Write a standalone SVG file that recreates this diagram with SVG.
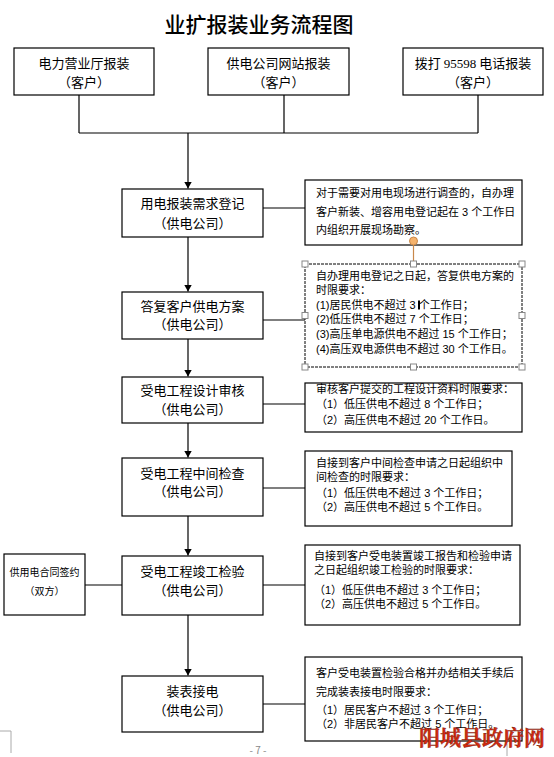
<svg xmlns="http://www.w3.org/2000/svg" width="554" height="757" viewBox="0 0 554 757">
<style>
text{font-family:"Noto Sans CJK SC","Noto Sans",sans-serif;fill:#000;dominant-baseline:central}
.box{fill:#fff;stroke:#000;stroke-width:1.2}
.m{font-size:13px;text-anchor:middle}
.n{font-size:11px;font-family:"Liberation Sans","Noto Sans CJK SC",sans-serif}
.ln{fill:none;stroke:#000;stroke-width:1.2}
.h{fill:#fff;stroke:#888;stroke-width:1}
.ser{font-family:"Liberation Serif",serif}
</style>
<defs>
<marker id="ar" markerWidth="8" markerHeight="8" refX="7" refY="4" orient="auto" markerUnits="userSpaceOnUse">
<path d="M0,0 L7,4 L0,8 z" fill="#000"/>
</marker>
</defs>
<rect width="554" height="757" fill="#fff"/>
<text x="259" y="22.5" style="font-size:21px;font-weight:500" text-anchor="middle">业扩报装业务流程图</text>

<g id="connectors">
<path class="ln" d="M79,95 V133 M284,95 V133 M478,95 V133 M79,133 H478"/>
<path class="ln" d="M188,133 V188.5" marker-end="url(#ar)"/>
<path class="ln" d="M188,237 V291.5" marker-end="url(#ar)"/>
<path class="ln" d="M188,339 V376.5" marker-end="url(#ar)"/>
<path class="ln" d="M188,423 V457.5" marker-end="url(#ar)"/>
<path class="ln" d="M188,516 V555.5" marker-end="url(#ar)"/>
<path class="ln" d="M188,615 V675.5" marker-end="url(#ar)"/>
<path class="ln" d="M263,208 H305 M263,320 H305 M263,404 H305 M263,488 H305 M263,585 H305 M263,704 H305 M85,585 H122"/>
</g>

<g id="src1"><rect class="box" x="14" y="48" width="140" height="47"/>
<text class="m" x="84" y="62.5">电力营业厅报装</text><text class="m" x="84" y="81">（客户）</text></g>
<g id="src2"><rect class="box" x="208" y="48" width="141" height="47"/>
<text class="m" x="278.5" y="62.5">供电公司网站报装</text><text class="m" x="278.5" y="81">（客户）</text></g>
<g id="src3"><rect class="box" x="403" y="48" width="140" height="47"/>
<text class="m" x="473" y="62.5">拨打 <tspan class="ser">95598</tspan> 电话报装</text><text class="m" x="473" y="81">（客户）</text></g>

<g id="step1"><rect class="box" x="122" y="189" width="141" height="48"/>
<text class="m" x="192.5" y="202">用电报装需求登记</text><text class="m" x="192.5" y="222">（供电公司）</text></g>
<g id="step2"><rect class="box" x="122" y="292" width="141" height="47"/>
<text class="m" x="192.5" y="305">答复客户供电方案</text><text class="m" x="192.5" y="323.5">（供电公司）</text></g>
<g id="step3"><rect class="box" x="122" y="377" width="141" height="46"/>
<text class="m" x="192.5" y="389.5">受电工程设计审核</text><text class="m" x="192.5" y="408.5">（供电公司）</text></g>
<g id="step4"><rect class="box" x="122" y="458" width="141" height="58"/>
<text class="m" x="192.5" y="472">受电工程中间检查</text><text class="m" x="192.5" y="490.5">（供电公司）</text></g>
<g id="step5"><rect class="box" x="122" y="556" width="141" height="59"/>
<text class="m" x="192.5" y="570">受电工程竣工检验</text><text class="m" x="192.5" y="589">（供电公司）</text></g>
<g id="step6"><rect class="box" x="122" y="676" width="141" height="56"/>
<text class="m" x="192.5" y="690.5">装表接电</text><text class="m" x="192.5" y="709.5">（供电公司）</text></g>

<g id="contract"><rect class="box" x="4" y="554" width="81" height="61"/>
<text x="44.5" y="571" style="font-size:10px" text-anchor="middle">供用电合同签约</text>
<text x="44.5" y="590" style="font-size:10px" text-anchor="middle">（双方）</text></g>

<g id="note1"><rect class="box" x="305" y="180" width="217" height="65"/>
<text class="n" x="316" y="193">对于需要对用电现场进行调查的，自办理</text>
<text class="n" x="316" y="212">客户新装、增容用电登记起在 3 个工作日</text>
<text class="n" x="316" y="230">内组织开展现场勘察。</text></g>

<g id="note2"><rect x="305" y="264" width="217" height="103" fill="#fff" stroke="#000" stroke-width="1" stroke-dasharray="3 1"/>
<text class="n" x="316" y="276">自办理用电登记之日起，答复供电方案的</text>
<text class="n" x="316" y="290">时限要求：</text>
<text class="n" x="316" y="305">(1)居民供电不超过 3 个工作日；</text>
<text class="n" x="316" y="319">(2)低压供电不超过 7 个工作日；</text>
<text class="n" x="316" y="334">(3)高压单电源供电不超过 15 个工作日；</text>
<text class="n" x="316" y="349">(4)高压双电源供电不超过 30 个工作日。</text>
<rect x="418" y="300.5" width="2" height="9" fill="#000"/>
<path d="M413.5,245 V264" stroke="#c8884a" stroke-width="1.2"/>
<circle cx="413.5" cy="241" r="4" fill="#f6b36c" stroke="#c8884a" stroke-width="1"/>
<rect class="h" x="302" y="261" width="6" height="6"/><rect class="h" x="410.5" y="261" width="6" height="6"/><rect class="h" x="519" y="261" width="6" height="6"/>
<rect class="h" x="302" y="312.5" width="6" height="6"/><rect class="h" x="519" y="312.5" width="6" height="6"/>
<rect class="h" x="302" y="364" width="6" height="6"/><rect class="h" x="410.5" y="364" width="6" height="6"/><rect class="h" x="519" y="364" width="6" height="6"/></g>

<g id="note3"><rect class="box" x="305" y="383" width="217" height="49"/>
<text class="n" x="316" y="389">审核客户提交的工程设计资料时限要求：</text>
<text class="n" x="316" y="404">（1）低压供电不超过 8 个工作日；</text>
<text class="n" x="316" y="420">（2）高压供电不超过 20 个工作日。</text></g>

<g id="note4"><rect class="box" x="305" y="451" width="207" height="75"/>
<text class="n" x="316" y="463">自接到客户中间检查申请之日起组织中</text>
<text class="n" x="316" y="477">间检查的时限要求：</text>
<text class="n" x="316" y="493">（1）低压供电不超过 3 个工作日；</text>
<text class="n" x="316" y="507">（2）高压供电不超过 5 个工作日。</text></g>

<g id="note5"><rect class="box" x="305" y="545" width="215" height="80"/>
<text class="n" x="314" y="556">自接到客户受电装置竣工报告和检验申请</text>
<text class="n" x="314" y="570">之日起组织竣工检验的时限要求：</text>
<text class="n" x="314" y="590">（1）低压供电不超过 3 个工作日；</text>
<text class="n" x="314" y="604">（2）高压供电不超过 5 个工作日。</text></g>

<g id="note6"><rect class="box" x="305" y="657" width="217" height="84"/>
<text class="n" x="316" y="673">客户受电装置检验合格并办结相关手续后</text>
<text class="n" x="316" y="692">完成装表接电时限要求：</text>
<text class="n" x="316" y="710">（1）居民客户不超过 3 个工作日；</text>
<text class="n" x="316" y="724">（2）非居民客户不超过 5 个工作日。</text></g>

<path d="M0,731 H11 V753" fill="none" stroke="#aaa" stroke-width="1"/>
<path d="M507,744 V756" stroke="#aaa" stroke-width="1"/>
<text x="258" y="749" style="font-size:10px;fill:#888" text-anchor="middle">- 7 -</text>
<text x="482" y="738" style="font-family:'Liberation Serif','Noto Serif CJK SC','Noto Sans CJK SC',serif;font-size:21px;font-weight:bold;fill:#d42a10;stroke:#7a1a08;stroke-width:0.4" text-anchor="middle">阳城县政府网</text>
</svg>
